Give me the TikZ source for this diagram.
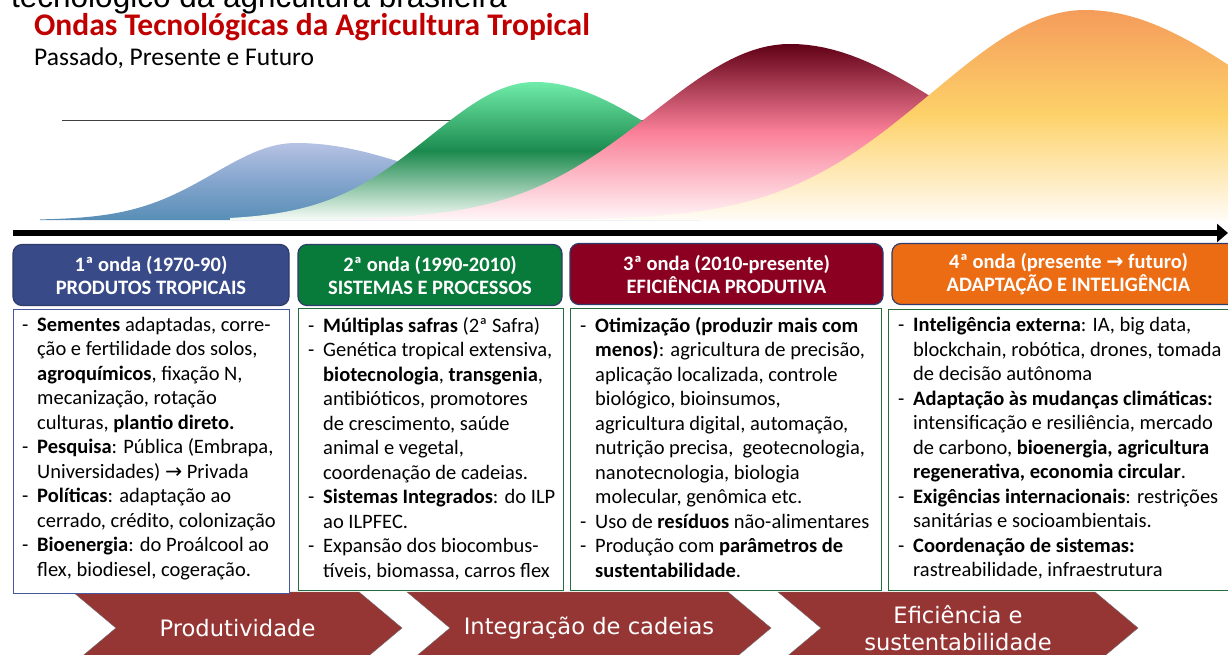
\documentclass[tikz,border=0pt]{standalone}
\usepackage{fontspec}
\setmainfont{Carlito}
\newfontfamily\chevfont{DejaVu Sans}
\newfontfamily\arrowfont{DejaVu Sans}
\newfontfamily\topfont{Liberation Sans}
\usetikzlibrary{shapes.symbols,arrows.meta}

\definecolor{ondaum}{RGB}{56,74,136}
\definecolor{ondadois}{RGB}{8,122,58}
\definecolor{ondatres}{RGB}{139,0,33}
\definecolor{ondaquatro}{RGB}{236,108,20}
\definecolor{bordacab}{RGB}{45,60,105}
\definecolor{caixaazul}{RGB}{70,88,155}
\definecolor{caixaverde}{RGB}{36,110,62}
\definecolor{setavinho}{RGB}{150,54,52}
\definecolor{titulo}{RGB}{192,0,0}
\definecolor{azulA}{RGB}{182,194,228}
\definecolor{azulB}{RGB}{132,165,205}
\definecolor{azulC}{RGB}{88,142,182}
\definecolor{verdeA}{RGB}{112,236,170}
\definecolor{verdeB}{RGB}{28,138,78}
\definecolor{verdeC}{RGB}{248,252,248}
\definecolor{rubroA}{RGB}{96,0,22}
\definecolor{rubroB}{RGB}{250,128,152}
\definecolor{rubroC}{RGB}{255,246,248}
\definecolor{laranjaA}{RGB}{244,156,90}
\definecolor{laranjaB}{RGB}{253,210,106}
\definecolor{laranjaC}{RGB}{255,252,246}

\newcommand{\hifen}{\makebox[15pt][l]{-}}
\newcommand{\recuo}{\hspace*{15pt}}
\newcommand{\flecha}{{\arrowfont →}}

\begin{document}
\begin{tikzpicture}[x=1pt,y=-1pt,
    cabeca/.style={draw=bordacab, line width=1.2pt, rounded corners=9pt, text=white,
        font=\fontsize{20.5}{23}\selectfont\bfseries, align=center, minimum height=61pt},
    caixa/.style={draw=caixaverde, line width=1.2pt, fill=white, anchor=north west, inner sep=0pt},
    texto/.style={anchor=north west, inner sep=0pt, align=left,
        font=\fontsize{20.5}{24.5}\selectfont, execute at begin node=\strut},
    etapa/.style={signal, signal from=west, signal to=east, signal pointer angle=80,
        fill=setavinho, draw=black!55, minimum height=72pt, text=white,
        font=\chevfont\fontsize{22.6}{27}\selectfont, align=center, inner sep=0pt}]

\useasboundingbox (0,0) rectangle (1228,655);

% titulos
\node[anchor=base west, inner sep=0pt, font=\topfont\fontsize{31.5}{33}\selectfont] (corte) at (11,8) {tecnológico da agricultura brasileira};
\node[anchor=base west, inner sep=0pt, text=titulo, font=\fontsize{31.5}{33}\selectfont\bfseries] (tit) at (34,36) {Ondas Tecnológicas da Agricultura Tropical};
\node[anchor=base west, inner sep=0pt, font=\fontsize{25.5}{28}\selectfont] (sub) at (34,66) {Passado, Presente e Futuro};

% ondas
\coordinate (guiaA) at (62,120);
\coordinate (guiaB) at (650,120);
\draw[black!75, line width=0.8pt] (guiaA) -- (guiaB);

\shade[top color=azulA, bottom color=azulC, middle color=azulB]
    (40,220) -- plot[domain=40:296, samples=60] (\x,{220-77*exp(-0.5*((\x-296)/82)^2)})
    -- plot[domain=296:700, samples=60] (\x,{220-77*exp(-0.5*((\x-296)/138)^2)}) -- (700,220) -- cycle;
\shade[top color=verdeA, bottom color=verdeC, middle color=verdeB]
    (230,220) -- plot[domain=230:535, samples=60] (\x,{220-138*exp(-0.5*((\x-535)/105)^2)})
    -- plot[domain=535:960, samples=60] (\x,{220-138*exp(-0.5*((\x-535)/132)^2)}) -- (960,220) -- cycle;
\shade[top color=rubroA, bottom color=rubroC, middle color=rubroB]
    (350,220) -- plot[domain=350:790, samples=60] (\x,{220-176*exp(-0.5*((\x-790)/138)^2)})
    -- plot[domain=790:1300, samples=60] (\x,{220-176*exp(-0.5*((\x-790)/167)^2)}) -- (1300,220) -- cycle;
\shade[top color=laranjaA, bottom color=laranjaC, middle color=laranjaB]
    (560,220) -- plot[domain=560:1085, samples=60] (\x,{220-210*exp(-0.5*((\x-1085)/153)^2)})
    -- plot[domain=1085:1300, samples=30] (\x,{220-210*exp(-0.5*((\x-1085)/184)^2)}) -- (1300,220) -- cycle;

% linha do tempo
\coordinate (inicio) at (13,233);
\coordinate (fim) at (1228,233);
\draw[line width=6pt, -{Triangle[length=11pt,width=18pt]}] (inicio) -- (fim);

% setas de baixo
\node[etapa, minimum width=329pt] (prod) at (237.5,628) {Produtividade};
\node[etapa, minimum width=364pt] (integ) at (589,628) {Integração de cadeias};
\node[etapa, minimum width=360pt] (efic) at (958,628) {Eficiência e\\sustentabilidade};

% caixas
\node[caixa, draw=caixaazul, minimum width=276pt, minimum height=284pt] (b1) at (13,309) {};
\node[caixa, minimum width=265pt, minimum height=282pt] (b2) at (298,308) {};
\node[caixa, minimum width=311pt, minimum height=282pt] (b3) at (570,308) {};
\node[caixa, minimum width=357pt, minimum height=281pt] (b4) at (888,309) {};

\node[cabeca, fill=ondaum, minimum width=276pt] (h1) at (151,275) {1ª onda (1970-90)\\PRODUTOS TROPICAIS};
\node[cabeca, fill=ondadois, minimum width=264pt] (h2) at (430,275) {2ª onda (1990-2010)\\SISTEMAS E PROCESSOS};
\node[cabeca, fill=ondatres, minimum width=313pt] (h3) at (726.5,274) {3ª onda (2010-presente)\\EFICIÊNCIA PRODUTIVA};
\node[cabeca, fill=ondaquatro, minimum width=353pt] (h4) at (1068.5,274) {4ª onda (presente {\arrowfont\bfseries →} futuro)\\ADAPTAÇÃO E INTELIGÊNCIA};

\node[texto] (t1) at (22,317) {\hifen\textbf{Sementes} adaptadas, corre-\\
\recuo ção e fertilidade dos solos,\\
\recuo\textbf{agroquímicos}, fixação N,\\
\recuo mecanização, rotação\\
\recuo culturas, \textbf{plantio direto.}\\
\hifen\textbf{Pesquisa}: Pública (Embrapa,\\
\recuo Universidades) \flecha{} Privada\\
\hifen\textbf{Políticas}: adaptação ao\\
\recuo cerrado, crédito, colonização\\
\hifen\textbf{Bioenergia}: do Proálcool ao\\
\recuo flex, biodiesel, cogeração.};

\node[texto] (t2) at (308,317) {\hifen\textbf{Múltiplas safras} (2ª Safra)\\
\hifen Genética tropical extensiva,\\
\recuo\textbf{biotecnologia}, \textbf{transgenia},\\
\recuo antibióticos, promotores\\
\recuo de crescimento, saúde\\
\recuo animal e vegetal,\\
\recuo coordenação de cadeias.\\
\hifen\textbf{Sistemas Integrados}: do ILP\\
\recuo ao ILPFEC.\\
\hifen Expansão dos biocombus-\\
\recuo tíveis, biomassa, carros flex};

\node[texto] (t3) at (580,317) {\hifen\textbf{Otimização (produzir mais com}\\
\recuo\textbf{menos)}: agricultura de precisão,\\
\recuo aplicação localizada, controle\\
\recuo biológico, bioinsumos,\\
\recuo agricultura digital, automação,\\
\recuo nutrição precisa,\ \ geotecnologia,\\
\recuo nanotecnologia, biologia\\
\recuo molecular, genômica etc.\\
\hifen Uso de \textbf{resíduos} não-alimentares\\
\hifen Produção com \textbf{parâmetros de}\\
\recuo\textbf{sustentabilidade}.};

\node[texto] (t4) at (898,317) {\hifen\textbf{Inteligência externa}: IA, big data,\\
\recuo blockchain, robótica, drones, tomada\\
\recuo de decisão autônoma\\
\hifen\textbf{Adaptação às mudanças climáticas:}\\
\recuo intensificação e resiliência, mercado\\
\recuo de carbono, \textbf{bioenergia, agricultura}\\
\recuo\textbf{regenerativa, economia circular}.\\
\hifen\textbf{Exigências internacionais}: restrições\\
\recuo sanitárias e socioambientais.\\
\hifen\textbf{Coordenação de sistemas:}\\
\recuo rastreabilidade, infraestrutura};

\end{tikzpicture}
\end{document}
